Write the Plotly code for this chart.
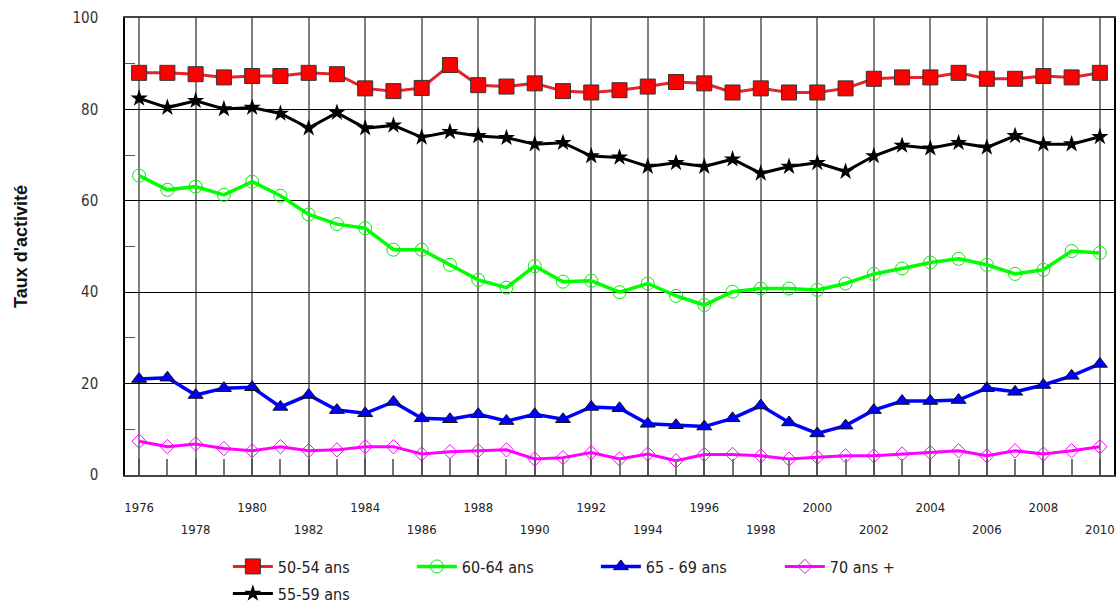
import plotly.graph_objects as go

years = list(range(1976, 2011))

s_50_54 = [88.0, 88.0, 87.7, 87.0, 87.3, 87.3, 88.0, 87.7, 84.6, 84.0,
           84.7, 89.7, 85.3, 85.0, 85.7, 84.0, 83.7, 84.2, 85.0, 86.0,
           85.7, 83.7, 84.6, 83.7, 83.7, 84.6, 86.7, 87.0, 87.0, 88.0,
           86.7, 86.7, 87.3, 87.0, 88.0]
s_55_59 = [82.4, 80.4, 81.9, 80.1, 80.4, 79.1, 75.9, 79.3, 75.9, 76.5,
           73.9, 75.1, 74.2, 73.8, 72.4, 72.7, 69.8, 69.5, 67.5, 68.3,
           67.5, 69.1, 66.0, 67.5, 68.3, 66.4, 69.8, 72.1, 71.5, 72.7,
           71.7, 74.2, 72.4, 72.4, 74.0]
s_60_64 = [65.5, 62.4, 63.1, 61.3, 64.2, 61.1, 57.0, 54.9, 54.0, 49.3,
           49.3, 46.0, 42.7, 41.0, 45.7, 42.3, 42.5, 40.0, 41.9, 39.2,
           37.2, 40.1, 40.8, 40.8, 40.5, 41.9, 44.0, 45.2, 46.5, 47.3,
           46.0, 44.0, 44.9, 49.0, 48.6]
s_65_69 = [21.0, 21.3, 17.5, 19.0, 19.2, 14.9, 17.5, 14.2, 13.5, 16.0,
           12.4, 12.2, 13.3, 11.8, 13.3, 12.2, 14.9, 14.6, 11.2, 10.9,
           10.6, 12.4, 15.2, 11.5, 9.1, 10.8, 14.2, 16.2, 16.2, 16.4,
           19.0, 18.2, 19.7, 21.7, 24.3]
s_70p = [7.4, 6.2, 6.8, 5.8, 5.3, 6.2, 5.3, 5.5, 6.2, 6.2,
         4.6, 5.1, 5.3, 5.5, 3.5, 3.8, 4.9, 3.5, 4.6, 3.1,
         4.5, 4.5, 4.2, 3.5, 3.9, 4.2, 4.2, 4.6, 4.9, 5.3,
         4.2, 5.3, 4.6, 5.3, 6.2]

row1_years = list(range(1976, 2011, 4))
row2_years = list(range(1978, 2011, 4))
grid_years = list(range(1976, 2011, 2))
y_ticks = [0, 20, 40, 60, 80, 100]

FONT = "Liberation Sans Narrow, Arial Narrow, DejaVu Sans Condensed, sans-serif"

fig = go.Figure()

fig.add_trace(go.Scatter(
    x=years, y=s_50_54, name="50-54 ans", mode="lines+markers",
    line=dict(color="#e6222b", width=3),
    marker=dict(symbol="square", size=15, color="#ff0000", line=dict(color="#333333", width=1)),
    legend="legend"))
fig.add_trace(go.Scatter(
    x=years, y=s_60_64, name="60-64 ans", mode="lines+markers",
    line=dict(color="#00ff00", width=3.5),
    marker=dict(symbol="circle-open", size=13, color="#00ee00", line=dict(width=1)),
    legend="legend"))
fig.add_trace(go.Scatter(
    x=years, y=s_65_69, name="65 - 69 ans", mode="lines+markers",
    line=dict(color="#0000ff", width=3.5),
    marker=dict(symbol="triangle-up", size=13, color="#0000ff", line=dict(color="#111111", width=1)),
    legend="legend"))
fig.add_trace(go.Scatter(
    x=years, y=s_70p, name="70 ans +", mode="lines+markers",
    line=dict(color="#ff00ff", width=3),
    marker=dict(symbol="diamond-open", size=11, color="#ff00ff", line=dict(width=1)),
    legend="legend"))
fig.add_trace(go.Scatter(
    x=years, y=s_55_59, name="55-59 ans", mode="lines+markers",
    line=dict(color="#000000", width=3),
    marker=dict(symbol="star", size=13, color="#000000"),
    legend="legend2"))
# helper trace so the second row of year labels has an axis
fig.add_trace(go.Scatter(x=[years[0]], y=[None], xaxis="x2", showlegend=False,
                         hoverinfo="skip", mode="lines"))

fig.update_layout(
    width=1117, height=605,
    margin=dict(l=125, r=1, t=18, b=130),
    paper_bgcolor="white", plot_bgcolor="white",
    font=dict(family=FONT, color="#222222", size=14),
    xaxis=dict(
        range=[1975.5, 2010.5],
        tickmode="array", tickvals=grid_years,
        ticktext=[str(y) if y in row1_years else "" for y in grid_years],
        ticks="inside", ticklen=16, tickcolor="#555555", tickwidth=1.5,
        showgrid=True, gridcolor="#808080", gridwidth=1.5,
        minor=dict(dtick=1, tick0=1976, ticks="inside", ticklen=16,
                   tickcolor="#777777", tickwidth=1.5, showgrid=False),
        showline=True, linecolor="#444444", linewidth=2, mirror=True,
        tickfont=dict(size=13, family=FONT, color="#222222"),
        ticklabelstandoff=19,
        zeroline=False,
    ),
    xaxis2=dict(
        overlaying="x", side="bottom", range=[1975.5, 2010.5],
        tickmode="array", tickvals=row2_years,
        ticktext=[str(y) for y in row2_years],
        ticks="", showgrid=False, showline=False, zeroline=False,
        tickfont=dict(size=13, family=FONT, color="#222222"),
        ticklabelstandoff=45,
    ),
    yaxis=dict(
        range=[0, 100], tickmode="array", tickvals=y_ticks,
        ticks="", showgrid=True, gridcolor="#000000", gridwidth=1,
        minor=dict(tickvals=[10, 30, 50, 70, 90], ticks="inside", ticklen=10,
                   tickcolor="#555555", tickwidth=1, showgrid=False),
        showline=True, linecolor="#000000", linewidth=1.5, mirror=True,
        tickfont=dict(size=15, family=FONT, color="#333333"),
        ticklabelstandoff=22,
        zeroline=False,
        title=dict(text="<b>Taux d'activité</b>", standoff=40,
                   font=dict(size=18, family="Liberation Sans, Arial, sans-serif", color="#111111")),
    ),
    legend=dict(orientation="h", xref="container", yref="container",
                x=0.204, xanchor="left", y=0.0917, yanchor="top",
                font=dict(size=16, family=FONT, color="#222222"),
                itemwidth=40, entrywidth=129, bgcolor="rgba(0,0,0,0)"),
    legend2=dict(orientation="h", xref="container", yref="container",
                 x=0.204, xanchor="left", y=0.047, yanchor="top",
                 font=dict(size=16, family=FONT, color="#222222"),
                 itemwidth=40, bgcolor="rgba(0,0,0,0)"),
    showlegend=True,
)

fig.write_html("out.html", config={"displayModeBar": False},
               post_script="document.body.style.margin='0';")
